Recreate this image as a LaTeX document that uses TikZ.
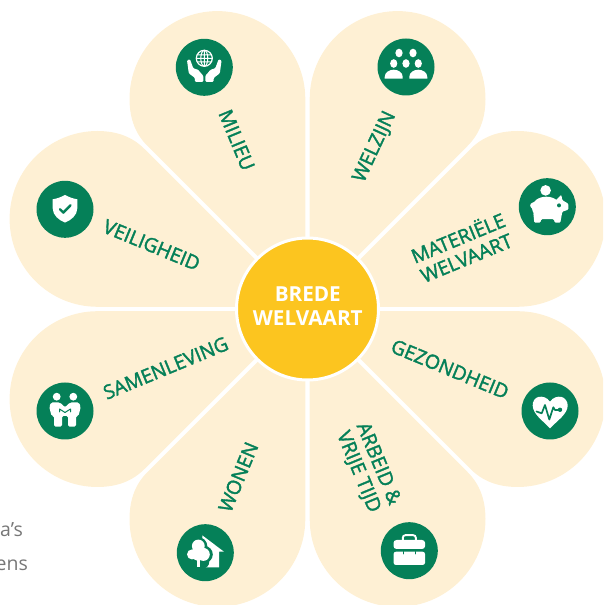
\documentclass[tikz,border=0pt]{standalone}
\usepackage{fontspec}
\setmainfont{Open Sans}
\newfontfamily\labfont[FakeBold=1.8]{Open Sans}
\newfontfamily\lightfont{Open Sans}
\definecolor{petalc}{HTML}{FEF0D4}
\definecolor{greenc}{HTML}{058058}
\definecolor{yellowc}{HTML}{FCC51F}
\definecolor{grayc}{HTML}{777777}
\tikzset{
  iconbg/.style={circle,fill=greenc,minimum size=57pt,inner sep=0pt},
  lab/.style={text=greenc,font=\labfont\fontsize{19.5}{21.5}\selectfont,align=center,inner sep=0pt},
  ico/.style={fill=white,draw=none},
  cut/.style={draw=greenc,line cap=round,line join=round},
  side/.style={text=grayc,font=\lightfont\fontsize{19.5}{22}\selectfont,anchor=base east,inner sep=0pt}
}
\newcommand{\petal}[4]{\fill[petalc,cm={#1,#2,#3,#4,(307.5,296)}]
  (2.2,0) -- (2.2,210) arc[start angle=180,end angle=0,radius=87.9]
  .. controls (177.9,190) and (172,175) .. (160,163) -- (3,6) -- cycle;}
\begin{document}
\begin{tikzpicture}[x=1pt,y=1pt]
\useasboundingbox (0,0) rectangle (603,605);
\clip (0,0) rectangle (603,605);
\petal{1}{0}{0}{1}
\petal{0}{1}{1}{0}
\petal{0}{-1}{1}{0}
\petal{1}{0}{0}{-1}
\petal{-1}{0}{0}{-1}
\petal{0}{-1}{-1}{0}
\petal{0}{1}{-1}{0}
\petal{-1}{0}{0}{1}
\node[circle,fill=yellowc,draw=white,line width=3pt,minimum size=142pt,inner sep=0pt] (hub) at (307.5,296) {};
\node[align=center,text=white,inner sep=0pt,font=\bfseries\fontsize{20.7}{24}\selectfont] (thub) at (307.8,299) {BREDE\\WELVAART};

\node[iconbg] (imilieu) at (204.3,537.7) {};
\node[iconbg] (iwelzijn) at (406,538) {};
\node[iconbg] (iveilig) at (65,395.7) {};
\node[iconbg] (isamen) at (65,194) {};
\node[iconbg] (imater) at (547.3,398.3) {};
\node[iconbg] (igezond) at (550,194) {};
\node[iconbg] (iwonen) at (205.3,52.3) {};
\node[iconbg] (iarbeid) at (409.3,54.3) {};

\node[lab,rotate=-67.5] (tmilieu) at (236.7,465) {MILIEU};
\node[lab,rotate=65] (twelzijn) at (375,458) {WELZIJN};
\node[lab,rotate=-22.5] (tveilig) at (151.7,360) {VEILIGHEID};
\node[lab,rotate=22.5] (tsamen) at (165.7,237) {SAMENLEVING};
\node[lab,rotate=22.5] (tmater) at (461.7,358.3) {MATERIËLE\\WELVAART};
\node[lab,rotate=-22.5] (tgezond) at (450,236) {GEZONDHEID};
\node[lab,rotate=67.5] (twonen) at (238.3,128) {WONEN};
\node[lab,rotate=-67.5] (tarbeid) at (368,137) {ARBEID \&\\VRIJE TIJD};

\node[side] (ta) at (23,68) {a’s};
\node[side] (tb) at (28,34.5) {ens};

% globe and hands
\begin{scope}[shift={(imilieu.center)}]
  \draw[white,line width=1.2pt] (0,9) circle[radius=8];
  \draw[white,line width=1pt] (0,9) ellipse[x radius=3.5,y radius=8] (-8,9) -- (8,9) (-7,12.5) -- (7,12.5) (-7,5.5) -- (7,5.5) (0,1) -- (0,17);
  \foreach \s in {1,-1}{
    \fill[ico,xscale=\s,rounded corners=1pt] (-17.3,7) -- (-14.3,8) -- (-11,-1) -- (-6,-2.5) -- (-5,-4) -- (-1,-8.5) -- (-1,-14.5) -- (-9.3,-14.5) -- (-9.5,-10.5) -- (-15.5,-6) -- cycle;
  }
\end{scope}
% people
\begin{scope}[shift={(iwelzijn.center)}]
  \foreach \x/\y in {-7/14,7/14,-12.3/3.5,0/3.5,12.3/3.5}{\fill[ico] (\x,\y) ellipse[x radius=3.6,y radius=4.3];}
  \foreach \x in {-12.3,12.3}{\fill[ico] (\x-9,-11.7) to[out=170,in=-90] (\x-9,-10) to[out=90,in=180] (\x,-2.7) to[out=0,in=90] (\x+9,-10) to[out=-90,in=10] (\x+9,-11.7) -- cycle;}
\end{scope}
% shield
\begin{scope}[shift={(iveilig.center)}]
  \fill[ico] (0,14.3) .. controls (4,12) and (9,10.5) .. (12.3,10) -- (12.3,1) .. controls (12.3,-6) and (6,-11) .. (0,-13.3) .. controls (-6,-11) and (-12.3,-6) .. (-12.3,1) -- (-12.3,10) .. controls (-9,10.5) and (-4,12) .. (0,14.3) -- cycle;
  \draw[cut,line width=2.4pt] (-5,0) -- (-1.7,-3.3) -- (5.5,4);
\end{scope}
% handshake
\begin{scope}[shift={(isamen.center)}]
  \fill[ico] (-8.3,14.3) circle[radius=3.9] (8.3,14.3) circle[radius=3.9];
  \fill[ico,rounded corners=1.5pt] (-15.7,4) -- (-14,8.5) -- (-5,8.5) -- (0,3.5) -- (5,8.5) -- (14,8.5) -- (15.7,4) -- (13.5,-5) -- (11,-5) -- (11,-15.7) -- (3,-15.7) -- (3,-5) -- (-3,-5) -- (-3,-15.7) -- (-11,-15.7) -- (-11,-5) -- (-13.5,-5) -- cycle;
  \draw[cut,line width=1pt] (-5.5,-1) -- (-5.5,2) -- (0,-1.5) -- (5.5,2) -- (5.5,-1);
\end{scope}
% piggy
\begin{scope}[shift={(imater.center)}]
  \fill[ico] (-1.7,16.3) circle[radius=5.3];
  \fill[ico] (-1,-1) ellipse[x radius=14.5,y radius=11];
  \fill[ico,rounded corners=1pt] (-17.3,2.5) -- (-13,5) -- (-13,-3) -- (-16.5,-1) -- cycle;
  \fill[ico,rounded corners=1pt] (8,6) -- (14,12) -- (15,6.5) -- (21,3) -- (21,-3) -- (15,-5) -- (13,-16) -- (7.5,-16) -- (6.5,-12.5) -- (-6,-12.5) -- (-7,-16) -- (-13,-16) -- (-14,-6) -- cycle;
  \fill[greenc] (11.7,1.3) circle[radius=2];
\end{scope}
% heart
\begin{scope}[shift={(igezond.center)}]
  \fill[ico] (0,9.3) .. controls (-3,14) and (-8,14.6) .. (-11,14.2) .. controls (-15.5,13.5) and (-17.5,9) .. (-17.3,5.5) .. controls (-17,-3) and (-8,-9) .. (0,-17.3) .. controls (8,-9) and (17.5,-3) .. (17.7,5.5) .. controls (17.7,9) and (15.5,13.5) .. (11,14.2) .. controls (8,14.6) and (3,14) .. (0,9.3) -- cycle;
  \draw[cut,line width=1.7pt] (-13.5,-0.5) -- (-8.3,-2.3) -- (-5,6) -- (-0.7,-8.5) -- (3.3,3.7) -- (5,1) -- (10,1);
  \fill[greenc] (10,1.2) circle[radius=2.2];
\end{scope}
% house and tree
\begin{scope}[shift={(iwonen.center)}]
  \fill[ico] (-3,17.3) -- (18.7,1) -- (13.7,1) -- (13.7,-14.7) -- (-3.7,-14.7) -- cycle;
  \fill[greenc] (-7,6.5) circle[radius=9] (-13.5,-1.7) circle[radius=7] (-1,-1.7) circle[radius=8.5] (-3,-9) circle[radius=7];
  \fill[ico] (-7,6.7) circle[radius=6.4] (-13.3,-1.7) circle[radius=5] (-2,-1.7) circle[radius=6.5] (-8,-3) circle[radius=5];
  \fill[ico] (-8.7,-14.7) rectangle (-5.3,-3);
\end{scope}
% briefcase
\begin{scope}[shift={(iarbeid.center)}]
  \draw[white,line width=1.9pt,rounded corners=2.5pt] (-6.5,9) -- (-6.5,15.5) -- (6.5,15.5) -- (6.5,9);
  \fill[ico,rounded corners=3pt] (-15.8,1.7) rectangle (15.8,10.7);
  \fill[ico,rounded corners=2.5pt] (-15.8,-1) rectangle (15.8,-14.3);
  \draw[cut,line width=1.3pt] (-6,-1) -- (-6,-3) (6,-1) -- (6,-3);
\end{scope}
\end{tikzpicture}
\end{document}
